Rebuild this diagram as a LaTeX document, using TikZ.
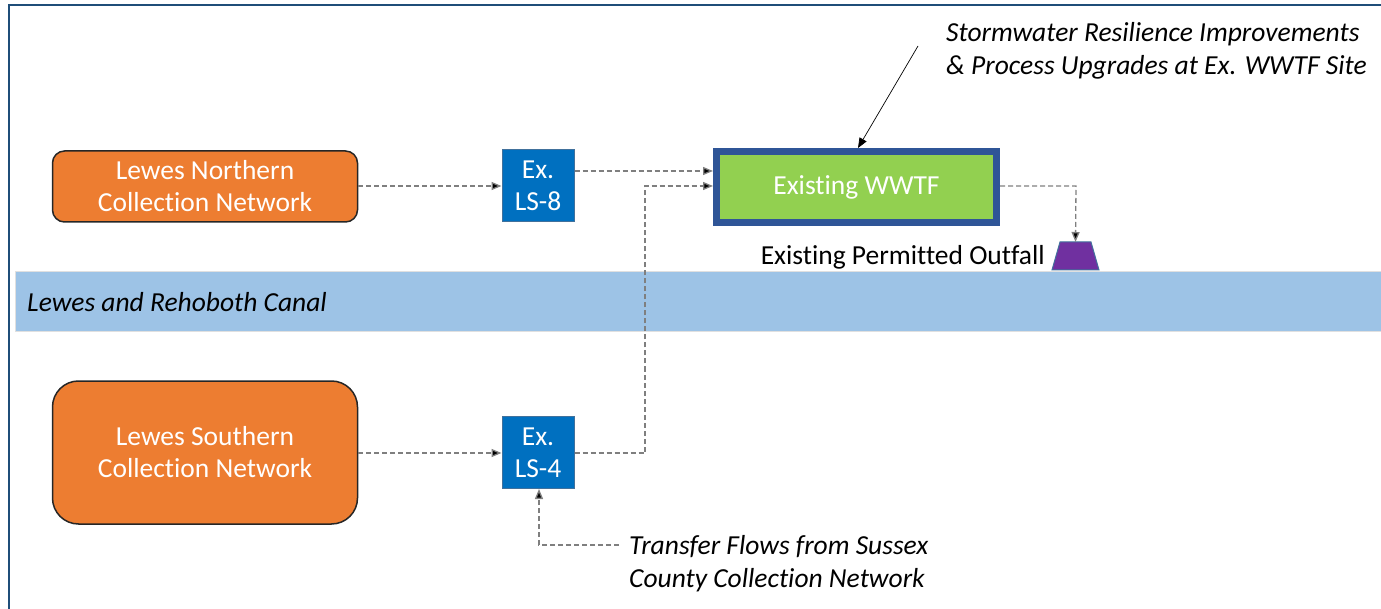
\documentclass[tikz,border=0pt]{standalone}
\usepackage{fontspec}
\setmainfont{Carlito}[Ligatures=NoCommon]
\usetikzlibrary{arrows.meta,shapes.geometric,calc}
\definecolor{frameblue}{HTML}{1F4E79}
\definecolor{orangebox}{HTML}{ED7D31}
\definecolor{lsblue}{HTML}{0070C0}
\definecolor{lsborder}{HTML}{41719C}
\definecolor{wwtfgreen}{HTML}{92D050}
\definecolor{wwtfborder}{HTML}{2F5597}
\definecolor{canalblue}{HTML}{9DC3E6}
\definecolor{outfallpurple}{HTML}{7030A0}
\definecolor{flowgray}{HTML}{7F7F7F}
\tikzset{
  txt/.style={font=\fontsize{27.5}{32}\selectfont},
  network/.style={txt, draw=black!85, line width=1.5pt, fill=orangebox, text=white, align=center, minimum width=305, inner sep=0},
  lsbox/.style={txt, draw=lsborder, line width=1pt, fill=lsblue, text=white, align=center, minimum width=72, minimum height=72, inner sep=0},
  flow/.style={draw=flowgray, line width=1.3pt, dash pattern=on 5pt off 3pt, -{Triangle[length=10pt,width=8pt,fill=black]}},
  note/.style={txt, font=\fontsize{27.5}{33}\selectfont\itshape, align=left, inner sep=0},
}
\begin{document}
\begin{tikzpicture}[x=1pt,y=-1pt]
\useasboundingbox (0,0) rectangle (1381,609);
% frame
\draw[frameblue, line width=2pt] (8.5,609) -- (8.5,5) -- (1381,5);
% canal
\node[draw=black!12, line width=0.8pt, fill=canalblue, minimum width=1370, minimum height=60, inner sep=0, anchor=north west] (canal) at (15,271) {};
\node[txt, font=\fontsize{27.5}{32}\selectfont\itshape, anchor=west, inner sep=0] (canallabel) at (27,302) {Lewes and Rehoboth Canal};
% networks
\node[network, rounded corners=12, minimum height=71] (north) at (205,186.5) {Lewes Northern\\Collection Network};
\node[network, rounded corners=26, minimum height=143] (south) at (205,452.5) {Lewes Southern\\Collection Network};
% lift stations
\node[lsbox] (ls8) at (538,186) {Ex.\\LS-8};
\node[lsbox] (ls4) at (538,452.5) {Ex.\\LS-4};
% WWTF
\node[txt, draw=wwtfborder, line width=7pt, fill=wwtfgreen, text=white, minimum width=280, minimum height=71, inner sep=0] (wwtf) at (856.5,187) {Existing WWTF};
% outfall
\draw[fill=outfallpurple, draw=lsborder, line width=1pt] (1052,270) -- (1060,242) -- (1091,242) -- (1099,270) -- cycle;
\coordinate (outfalltop) at (1075.5,242);
\node[txt, anchor=east, inner sep=0] (outfalllabel) at (1045,257) {Existing Permitted Outfall};
% notes
\node[note, anchor=west] (stormnote) at (946,51) {Stormwater Resilience Improvements\\\& Process Upgrades at Ex. WWTF Site};
\node[note, anchor=west] (transfernote) at (629,564) {Transfer Flows from Sussex\\County Collection Network};
\coordinate (stormstart) at (918,46);
\coordinate (transferstart) at (619,545);
% flows
\draw[flow] (north.east |- 0,186) -- (ls8.west |- 0,186);
\draw[flow] (south.east |- 0,453) -- (ls4.west |- 0,453);
\draw[flow] (ls8.east |- 0,171) -- (wwtf.west |- 0,171);
\draw[flow] (ls4.east |- 0,453) -- (645,453) -- (645,186) -- (wwtf.west |- 0,186);
\draw[flow] (wwtf.east |- 0,186) -- (1076,186) -- (outfalltop);
\draw[flow] (transferstart) -- (539,545) -- (ls4.south -| 539,0);
\draw[black, line width=0.7pt, -{Triangle[length=10pt,width=8pt]}] (stormstart) -- (wwtf.north -| 858,0);
\end{tikzpicture}
\end{document}
